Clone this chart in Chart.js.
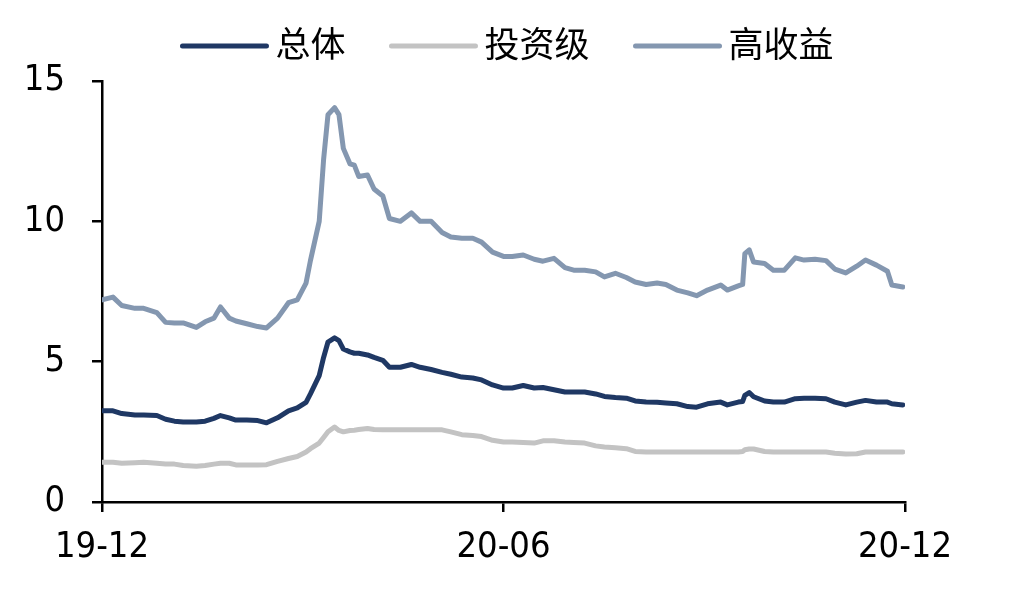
<!DOCTYPE html>
<html>
<head>
<meta charset="utf-8">
<script src="https://cdn.jsdelivr.net/npm/chart.js@4.4.1/dist/chart.umd.min.js"></script>
<style>
  html, body { margin: 0; padding: 0; background: #fff; }
  #wrap { width: 1023px; height: 598px; }
</style>
</head>
<body>
<div id="wrap"><canvas id="c-spread"></canvas></div>
<script>
const dates = [
  '2019-12-01','2019-12-06','2019-12-10','2019-12-16','2019-12-20','2019-12-26','2019-12-30',
  '2020-01-03','2020-01-07','2020-01-13','2020-01-17','2020-01-21','2020-01-24','2020-01-28','2020-01-31',
  '2020-02-05','2020-02-10','2020-02-14','2020-02-19','2020-02-24','2020-02-28',
  '2020-03-03','2020-03-05','2020-03-09','2020-03-11','2020-03-13','2020-03-16','2020-03-18','2020-03-20',
  '2020-03-23','2020-03-25','2020-03-27','2020-03-31',
  '2020-04-03','2020-04-07','2020-04-10','2020-04-15','2020-04-20','2020-04-24','2020-04-29',
  '2020-05-04','2020-05-08','2020-05-13','2020-05-18','2020-05-22','2020-05-27',
  '2020-06-01','2020-06-05','2020-06-10','2020-06-15','2020-06-19','2020-06-24','2020-06-29',
  '2020-07-03','2020-07-08','2020-07-13','2020-07-17','2020-07-22','2020-07-27','2020-07-31',
  '2020-08-05','2020-08-10','2020-08-14','2020-08-19','2020-08-24','2020-08-28',
  '2020-09-02','2020-09-08','2020-09-11','2020-09-16','2020-09-18','2020-09-19','2020-09-21','2020-09-23','2020-09-28',
  '2020-10-02','2020-10-07','2020-10-12','2020-10-16','2020-10-21','2020-10-26','2020-10-30',
  '2020-11-04','2020-11-09','2020-11-13','2020-11-18','2020-11-23','2020-11-25','2020-11-30'
];

// 总体
const total = [
  3.25,3.25,3.15,3.1,3.1,3.08,2.95,
  2.88,2.85,2.85,2.88,2.98,3.08,3.0,2.92,
  2.92,2.9,2.82,3.0,3.25,3.35,
  3.55,3.85,4.5,5.15,5.7,5.85,5.75,5.45,
  5.35,5.3,5.3,5.24,
  5.15,5.05,4.8,4.8,4.9,4.8,4.72,
  4.62,4.55,4.45,4.42,4.35,4.17,
  4.06,4.06,4.15,4.06,4.08,4.0,3.92,
  3.92,3.92,3.85,3.76,3.72,3.7,3.6,
  3.56,3.55,3.53,3.5,3.4,3.38,
  3.5,3.56,3.46,3.56,3.58,3.8,3.9,3.75,3.6,
  3.56,3.56,3.68,3.7,3.7,3.68,3.56,
  3.46,3.56,3.62,3.56,3.56,3.5,3.46
];

// 投资级
const invGrade = [
  1.42,1.42,1.38,1.4,1.42,1.38,1.35,
  1.35,1.3,1.27,1.3,1.35,1.38,1.38,1.32,
  1.32,1.32,1.33,1.45,1.55,1.62,
  1.78,1.9,2.1,2.3,2.5,2.67,2.55,2.5,
  2.55,2.56,2.58,2.62,
  2.58,2.57,2.57,2.57,2.57,2.57,2.57,
  2.57,2.5,2.4,2.37,2.33,2.2,
  2.14,2.14,2.12,2.1,2.18,2.18,2.14,
  2.12,2.1,2.0,1.96,1.93,1.9,1.8,
  1.78,1.78,1.78,1.78,1.78,1.78,
  1.78,1.78,1.78,1.78,1.8,1.86,1.89,1.89,1.8,
  1.78,1.78,1.78,1.78,1.78,1.78,1.74,
  1.71,1.72,1.78,1.78,1.78,1.78,1.78
];

// 高收益
const highYield = [
  7.2,7.3,7.0,6.9,6.9,6.75,6.4,
  6.38,6.38,6.22,6.42,6.55,6.95,6.55,6.45,
  6.35,6.25,6.2,6.55,7.1,7.2,
  7.8,8.6,10.0,12.2,13.8,14.05,13.8,12.6,
  12.05,12.0,11.6,11.65,
  11.15,10.9,10.1,10.0,10.3,10.0,10.0,
  9.6,9.44,9.4,9.4,9.26,8.9,
  8.75,8.75,8.8,8.65,8.58,8.68,8.35,
  8.26,8.26,8.2,8.02,8.15,8.0,7.84,
  7.75,7.8,7.75,7.55,7.45,7.35,
  7.55,7.73,7.55,7.7,7.75,8.85,8.98,8.55,8.5,
  8.26,8.26,8.7,8.62,8.65,8.6,8.3,
  8.16,8.4,8.62,8.44,8.22,7.73,7.66
];

const tickDates = ['2019-12-01', '2020-06-01', '2020-12-01'];
const tickLabels = ['19-12', '20-06', '20-12'];
const seriesNames = ['总体', '投资级', '高收益'];
const seriesColors = ['#1f3864', '#c3c3c3', '#8497b0'];

const DAY = 86400000;
const t0 = Date.parse(tickDates[0]);
const toDay = d => (Date.parse(d) - t0) / DAY;

const points = vals => dates.map((d, i) => ({ x: toDay(d), y: vals[i] }));

const numFont = '"DejaVu Sans Condensed", "Liberation Sans", sans-serif';

// legend drawn above the plot, line sample + label
const topLegend = {
  id: 'topLegend',
  afterDraw(chart) {
    const ctx = chart.ctx;
    const lineW = 88, gap = 7, itemGap = 44, y = 46;
    ctx.save();
    ctx.font = '35px "Noto Sans CJK SC", sans-serif';
    ctx.textBaseline = 'middle';
    const items = chart.data.datasets.map(ds => ({
      text: ds.label, color: ds.borderColor,
      w: lineW + gap + ctx.measureText(ds.label).width
    }));
    const totalW = items.reduce((s, it) => s + it.w, 0) + itemGap * (items.length - 1);
    let x = 507 - totalW / 2;
    items.forEach(it => {
      ctx.strokeStyle = it.color;
      ctx.lineWidth = 5;
      ctx.lineCap = 'round';
      ctx.beginPath();
      ctx.moveTo(x + 2, y);
      ctx.lineTo(x + lineW - 2, y);
      ctx.stroke();
      ctx.fillStyle = '#000';
      ctx.fillText(it.text, x + lineW + gap, y - 2);
      x += it.w + itemGap;
    });
    ctx.restore();
  }
};

const series = [total, invGrade, highYield];

new Chart(document.getElementById('c-spread'), {
  type: 'line',
  data: {
    datasets: series.map((vals, i) => ({
      label: seriesNames[i],
      data: points(vals),
      borderColor: seriesColors[i],
      backgroundColor: seriesColors[i],
      borderWidth: 5,
      pointRadius: 0,
      tension: 0,
      borderJoinStyle: 'round',
      borderCapStyle: 'round'
    }))
  },
  options: {
    responsive: true,
    maintainAspectRatio: false,
    animation: false,
    layout: { padding: { top: 81, right: 118, left: 0, bottom: 0 } },
    plugins: { legend: { display: false }, tooltip: { enabled: false } },
    scales: {
      x: {
        type: 'linear',
        min: 0,
        max: toDay(tickDates[2]),
        afterBuildTicks: axis => { axis.ticks = tickDates.map(d => ({ value: toDay(d) })); },
        afterFit: axis => { axis.height = 96; },
        grid: { drawOnChartArea: false, drawTicks: true, tickLength: 10, color: '#000', lineWidth: 2.5 },
        border: { color: '#000', width: 2.5 },
        ticks: {
          autoSkip: false, maxRotation: 0, padding: 14, color: '#000',
          font: { family: numFont, size: 36 },
          callback: (v, i) => tickLabels[i]
        }
      },
      y: {
        min: 0,
        max: 15,
        afterFit: axis => { axis.width = 102; },
        grid: { drawOnChartArea: false, drawTicks: true, tickLength: 10, color: '#000', lineWidth: 2.5 },
        border: { color: '#000', width: 2.5 },
        ticks: {
          stepSize: 5, padding: 27, color: '#000',
          font: { family: numFont, size: 36 }
        }
      }
    }
  },
  plugins: [topLegend]
});
</script>
</body>
</html>
